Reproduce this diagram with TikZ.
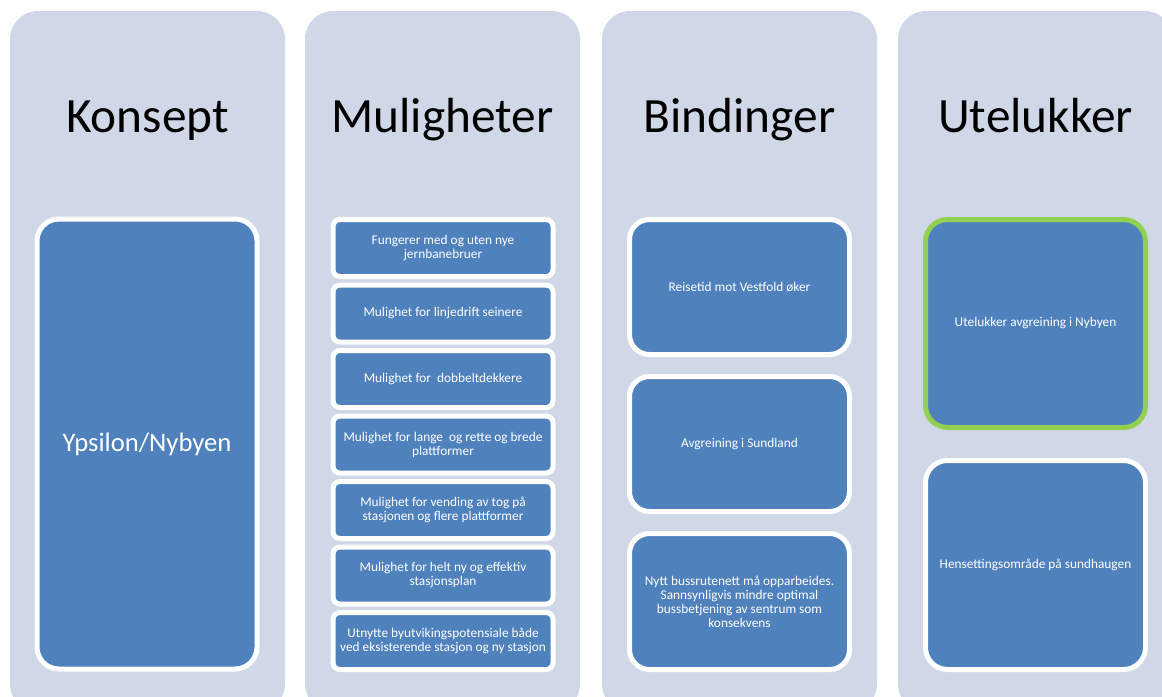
\documentclass[tikz,border=0pt]{standalone}
\usepackage{fontspec}
\setmainfont{Carlito}
\definecolor{colfill}{HTML}{D0D8E8}
\definecolor{boxblue}{HTML}{4F81BD}
\definecolor{hlgreen}{HTML}{92D050}
\begin{document}
\begin{tikzpicture}[x=0.75pt,y=-0.75pt,
  column/.style={fill=colfill,draw=none,rounded corners=21pt,
    minimum width=206.25pt,minimum height=525.75pt,inner sep=0pt},
  header/.style={anchor=base,font=\fontsize{37}{40}\selectfont,text=black},
  item/.style={fill=boxblue,draw=white,line width=3.75pt,
    minimum width=165pt,inner sep=2pt,align=center,text=white,
    font=\fontsize{10}{10.5}\selectfont},
  smallitem/.style={item,rounded corners=5.25pt,minimum height=42.75pt},
  miditem/.style={item,rounded corners=15pt,minimum height=101.25pt},
  tallitem/.style={item,rounded corners=16.5pt}]
\useasboundingbox (0,0) rectangle (1162,696);

% background columns
\node[column] (c1) at (147.5,361.5) {};
\node[column] (c2) at (442.5,361.5) {};
\node[column] (c3) at (739.5,361.5) {};
\node[column] (c4) at (1035.5,361.5) {};

% column titles
\node[header] (h1) at (147.5,132) {Konsept};
\node[header] (h2) at (442.5,132) {Muligheter};
\node[header] (h3) at (739.5,132) {Bindinger};
\node[header] (h4) at (1035.5,132) {Utelukker};

% Konsept
\node[tallitem,minimum height=337.5pt,font=\fontsize{20}{24}\selectfont] (k1) at (147,444) {Ypsilon/Nybyen};

% Muligheter
\node[smallitem] (m1) at (443,248)   {Fungerer med og uten nye\\jernbanebruer};
\node[smallitem] (m2) at (443,313.5) {Mulighet for linjedrift seinere};
\node[smallitem] (m3) at (443,379)   {Mulighet for \ dobbeltdekkere};
\node[smallitem] (m4) at (443,444.5) {Mulighet for lange \ og rette og brede\\plattformer};
\node[smallitem] (m5) at (443,510)   {Mulighet for vending av tog på\\stasjonen og flere plattformer};
\node[smallitem] (m6) at (443,575.5) {Mulighet for helt ny og effektiv\\stasjonsplan};
\node[smallitem] (m7) at (443,641)   {Utnytte byutvikingspotensiale både\\ved eksisterende stasjon og ny stasjon};

% Bindinger
\node[miditem] (b1) at (739.5,287)   {Reisetid mot Vestfold øker};
\node[miditem] (b2) at (739.5,444)   {Avgreining i Sundland};
\node[miditem,minimum height=102pt] (b3) at (739.5,601.5) {Nytt bussrutenett må opparbeides.\\Sannsynligvis mindre optimal\\bussbetjening av sentrum som\\konsekvens};

% Utelukker
\node[tallitem,draw=hlgreen,minimum height=156pt] (u1) at (1035.5,323.5) {Utelukker avgreining i Nybyen};
\node[tallitem,minimum height=156.75pt] (u2) at (1035.5,565) {Hensettingsområde på sundhaugen};
\end{tikzpicture}
\end{document}
